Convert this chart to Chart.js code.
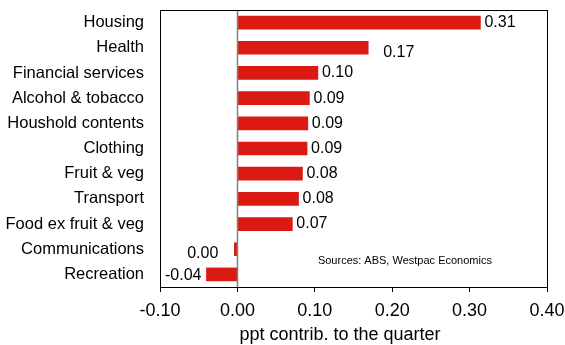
<!DOCTYPE html>
<html>
<head>
<meta charset="utf-8">
<script src="https://cdn.jsdelivr.net/npm/chart.js@4.4.1/dist/chart.umd.min.js"></script>
<style>
    html, body { margin: 0; padding: 0; background: #fff; }
    #wrap { width: 565px; height: 345px; }
</style>
</head>
<body>
<div id="wrap"><canvas id="chart" width="565" height="345"></canvas></div>
<script>
const categories = ['Housing', 'Health', 'Financial services', 'Alcohol & tobacco', 'Houshold contents',
    'Clothing', 'Fruit & veg', 'Transport', 'Food ex fruit & veg', 'Communications', 'Recreation'];
const contributions = [0.314, 0.169, 0.104, 0.093, 0.091, 0.090, 0.084, 0.079, 0.071, -0.004, -0.040];
const xTicks = [-0.10, 0.00, 0.10, 0.20, 0.30, 0.40];
const xTitle = 'ppt contrib. to the quarter';
const sourceNote = 'Sources: ABS, Westpac Economics';

const FONT = 'Arial, "Liberation Sans", sans-serif';

function fmt(v) {
    return (Math.round(v * 100) / 100).toFixed(2);
}

// box around the plot, grey zero line, value labels, axis title and source note
const decorations = {
    id: 'decorations',
    afterDatasetsDraw(chart) {
        const { ctx, chartArea: a, scales: { x } } = chart;
        ctx.save();

        const zx = Math.round(x.getPixelForValue(0)) + 0.5;
        ctx.strokeStyle = '#808080';
        ctx.lineWidth = 1.5;
        ctx.beginPath();
        ctx.moveTo(zx, a.top);
        ctx.lineTo(zx, a.bottom);
        ctx.stroke();

        ctx.strokeStyle = '#000';
        ctx.lineWidth = 1;
        ctx.strokeRect(Math.round(a.left) + 0.5, Math.round(a.top) + 0.5,
            Math.round(a.right - a.left), Math.round(a.bottom - a.top));

        ctx.font = '16px ' + FONT;
        ctx.fillStyle = '#000';
        ctx.textBaseline = 'middle';
        const bars = chart.getDatasetMeta(0).data;
        bars.forEach((bar, i) => {
            const v = contributions[i];
            if (v >= 0) {
                ctx.textAlign = 'left';
                const dx = categories[i] === 'Health' ? 15 : 4;
                const dy = categories[i] === 'Health' ? 5 : 0;
                ctx.fillText(fmt(v), bar.x + dx, bar.y + dy);
            } else if (v > -0.01) {
                ctx.textAlign = 'right';
                ctx.fillText(fmt(v), bar.x - 16, bar.y + 4);
            } else {
                ctx.textAlign = 'right';
                ctx.fillText(fmt(v), bar.x - 5, bar.y + 1);
            }
        });

        ctx.font = '11px ' + FONT;
        ctx.textAlign = 'left';
        ctx.fillText(sourceNote, x.getPixelForValue(0.104), bars[9].y + 12);

        ctx.font = '18px ' + FONT;
        ctx.textAlign = 'center';
        ctx.textBaseline = 'alphabetic';
        ctx.fillText(xTitle, 340, 340);
        ctx.restore();
    }
};

new Chart(document.getElementById('chart'), {
    type: 'bar',
    data: {
        labels: categories,
        datasets: [{
            data: contributions,
            backgroundColor: '#dc1a14',
            borderWidth: 0,
            barThickness: 13
        }]
    },
    options: {
        indexAxis: 'y',
        responsive: false,
        animation: false,
        layout: { padding: { top: 10, right: 18, left: 0, bottom: 0 } },
        plugins: {
            legend: { display: false },
            tooltip: { enabled: false }
        },
        scales: {
            x: {
                min: -0.10,
                max: 0.40,
                afterBuildTicks: (s) => { s.ticks = xTicks.map(v => ({ value: v })); },
                grid: { display: true, drawOnChartArea: false, drawTicks: true, tickLength: 5, color: '#000' },
                border: { display: false },
                ticks: {
                    padding: 8,
                    color: '#000',
                    font: { family: FONT, size: 18 },
                    callback: (v) => Number(v).toFixed(2)
                },
                afterFit: (s) => {
                    s.height = 58;
                    s.paddingLeft = 0;
                    s.paddingRight = 0;
                }
            },
            y: {
                grid: { display: false, drawTicks: false },
                border: { display: false },
                ticks: {
                    padding: 16,
                    color: '#000',
                    font: { family: FONT, size: 16.5 }
                },
                afterFit: (s) => {
                    s.width = 160;
                    s.paddingTop = 0;
                    s.paddingBottom = 0;
                }
            }
        }
    },
    plugins: [decorations]
});
</script>
</body>
</html>
